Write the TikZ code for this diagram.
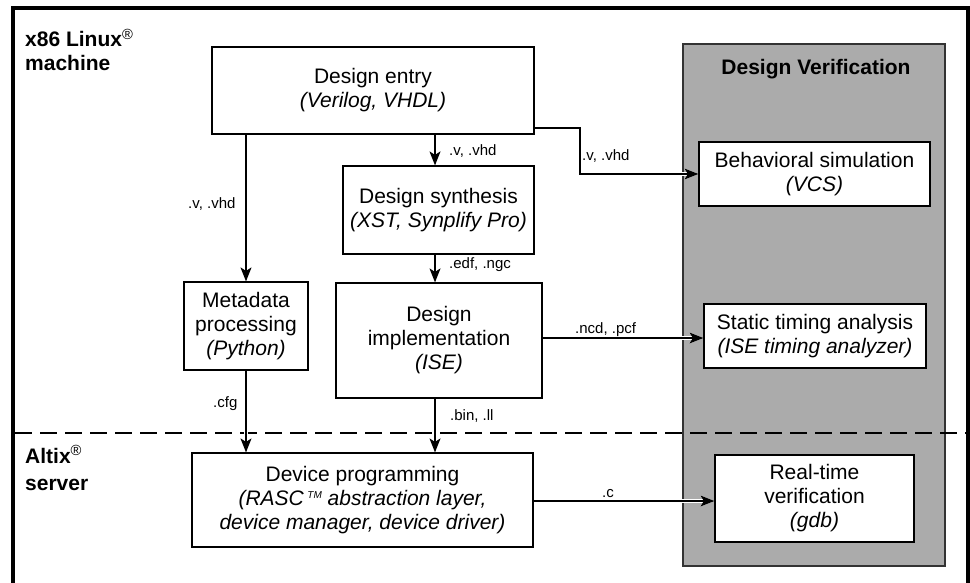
\documentclass[tikz,border=0pt]{standalone}
\usepackage{fontspec}
\setmainfont{Liberation Sans}
\usetikzlibrary{arrows.meta}
\definecolor{vgray}{HTML}{ABABAB}
\definecolor{vborder}{HTML}{333333}
\pgfdeclarelayer{back}
\pgfdeclarelayer{mid}
\pgfsetlayers{back,mid,main}
\begin{document}
\begin{tikzpicture}[x=1pt,y=-1pt,
  box/.style={draw=black, line width=1.2pt, fill=white, align=center, inner sep=0pt,
    font=\fontsize{21}{24}\selectfont, execute at begin node={\rule{0pt}{24pt}}},
  lbl/.style={font=\fontsize{15}{17}\selectfont, inner sep=0pt, anchor=base west},
  side/.style={font=\bfseries\fontsize{21}{24}\selectfont, inner sep=0pt, anchor=base west, align=left},
  flow/.style={line width=1.2pt, -{Stealth[length=14pt,width=11pt,inset=3.5pt]},
    preaction={draw=white, line width=3.6pt, -{Stealth[length=14pt,width=11pt,inset=3.5pt]}}},
]
\useasboundingbox (0,0) rectangle (970,583);
% outer frame (open at the bottom)
\draw[line width=4pt] (13,590) -- (13,8) -- (968,8) -- (968,590);

\begin{pgfonlayer}{back}
  \draw[draw=vborder, line width=1.3pt, fill=vgray] (683,44) rectangle (945,566);
  \draw[line width=1.3pt, dash pattern=on 17pt off 8pt] (15,433) -- (966,433);
\end{pgfonlayer}

\node[font=\bfseries\fontsize{21}{24}\selectfont, inner sep=0pt, anchor=base] (dvt) at (816,75) {Design Verification};

\node[side] (x86) at (25,71) {x86 Linux\textsuperscript{\mdseries\textregistered}\\machine};
\node[side, font=\bfseries\fontsize{21}{27}\selectfont] (altix) at (25,490) {Altix\textsuperscript{\mdseries\textregistered}\\server};

\node[box, minimum width=322pt, minimum height=87pt] (de) at (373,90.5) {Design entry\\\textit{(Verilog, VHDL)}};
\node[box, minimum width=191pt, minimum height=88pt] (syn) at (438.5,210) {Design synthesis\\\textit{(XST, Synplify Pro)}};
\node[box, minimum width=206pt, minimum height=115pt] (impl) at (439,340.5) {Design\\implementation\\\textit{(ISE)}};
\node[box, minimum width=124pt, minimum height=88pt] (meta) at (246,326) {Metadata\\processing\\\textit{(Python)}};
\node[box, minimum width=341pt, minimum height=94pt] (dev) at (362.5,500) {Device programming\\\textit{(RASC\,\raisebox{7pt}{\fontsize{10}{10}\selectfont TM} abstraction layer,}\\\textit{device manager, device driver)}};
\node[box, minimum width=231pt, minimum height=64pt] (beh) at (814.5,174) {Behavioral simulation\\\textit{(VCS)}};
\node[box, minimum width=222pt, minimum height=64pt] (sta) at (815,336) {Static timing analysis\\\textit{(ISE timing analyzer)}};
\node[box, minimum width=199pt, minimum height=87pt] (rtv) at (814.5,498.5) {Real-time\\verification\\\textit{(gdb)}};

\coordinate (cx) at (435,0);
\coordinate (bend) at (580,128);

\begin{pgfonlayer}{mid}
  \draw[flow] (de.south -| cx) -- (syn.north -| cx);
  \draw[flow] (syn.south -| cx) -- (impl.north -| cx);
  \draw[flow] (impl.south -| cx) -- (dev.north -| cx);
  \draw[flow] (de.south -| meta.north) -- (meta.north);
  \draw[flow] (meta.south) -- (dev.north -| meta.south);
  \draw[flow] (de.east |- bend) -- (bend) |- (beh.west);
  \draw[flow] (impl.east |- 0,338) -- (sta.west |- 0,338);
  \draw[flow] (dev.east |- 0,501) -- (rtv.west |- 0,501);
\end{pgfonlayer}

\node[lbl] (l1) at (449,156) {.v, .vhd};
\node[lbl] (l2) at (188,209) {.v, .vhd};
\node[lbl] (l3) at (449,269) {.edf, .ngc};
\node[lbl] (l4) at (582,161) {.v, .vhd};
\node[lbl] (l5) at (575,333) {.ncd, .pcf};
\node[lbl] (l6) at (213,407) {.cfg};
\node[lbl] (l7) at (450,420) {.bin, .ll};
\node[lbl] (l8) at (602,497) {.c};
\end{tikzpicture}
\end{document}
